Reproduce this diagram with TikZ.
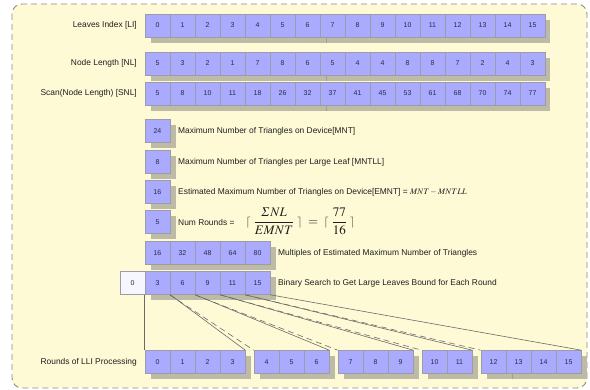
\documentclass[tikz,border=0pt]{standalone}
\usepackage{mathptmx}
\usepackage{amsmath}
\usepackage[no-math]{fontspec}
\setmainfont{Liberation Sans}
\usetikzlibrary{calc}

\definecolor{paper}{HTML}{FFFAD6}
\definecolor{frameline}{HTML}{8A8A8A}
\definecolor{cellfill}{HTML}{AAAAFF}
\definecolor{cellline}{HTML}{9C9CA8}
\definecolor{celltext}{HTML}{2A2A48}
\definecolor{zerofill}{HTML}{F6F6FF}
\definecolor{shade}{HTML}{BDBAA6}
\definecolor{seamline}{HTML}{A29F8A}
\definecolor{linkline}{HTML}{6A6A6A}
\definecolor{lbltext}{HTML}{1E1E1E}

% ceiling brackets set a little smaller than the fractions they enclose
\newcommand{\ceilL}{\mbox{\fontsize{11}{13}\selectfont$\lceil$}}
\newcommand{\ceilR}{\mbox{\fontsize{11}{13}\selectfont$\rceil$}}

\tikzset{
  cell/.style={draw=cellline, fill=cellfill, line width=0.6pt,
    minimum width=25pt, minimum height=23pt, inner sep=0pt,
    text=celltext, font=\fontsize{7}{8}\selectfont},
  zerocell/.style={cell, fill=zerofill},
  rowlabel/.style={anchor=east, inner sep=0pt, text=lbltext,
    font=\fontsize{8.4}{10}\selectfont},
  desc/.style={anchor=west, inner sep=0pt, text=lbltext,
    font=\fontsize{8.4}{10}\selectfont},
  shadowbox/.style={fill=shade, draw=none},
  seam/.style={draw=seamline, line width=0.6pt},
  link/.style={draw=linkline, line width=0.6pt},
  dlink/.style={link, dash pattern=on 6pt off 4pt},
}

\begin{document}
\begin{tikzpicture}[x=1pt,y=-1pt]
\useasboundingbox (0,0) rectangle (590,390);

% framed background
\draw[fill=paper, draw=frameline, line width=0.9pt, dash pattern=on 6pt off 4pt,
      rounded corners=10pt] (12,4) rectangle (587,388);

% drop shadows behind the cell groups
\fill[shadowbox] (151,20) rectangle (550,43);
\fill[shadowbox] (151,58) rectangle (550,81);
\fill[shadowbox] (151,88) rectangle (550,111);
\draw[seam] (326,37) -- (326,43);
\draw[seam] (326,75) -- (326,81);
\draw[seam] (326,105) -- (326,111);
\foreach \yy in {131,162,192,222}
  \fill[shadowbox] (151,\yy-5.5) rectangle (175.5,\yy+17.5);
\fill[shadowbox] (151,247.5) rectangle (275.5,270.5);
\fill[shadowbox] (151,277.5) rectangle (275.5,300.5);
\fill[shadowbox] (151,356.5) rectangle (250.5,379.5);
\fill[shadowbox] (260,356.5) rectangle (334.5,379.5);
\fill[shadowbox] (344,356.5) rectangle (418.5,379.5);
\fill[shadowbox] (428,356.5) rectangle (477.5,379.5);
\fill[shadowbox] (487,356.5) rectangle (586.5,379.5);
\draw[seam] (512,373) -- (512,379.5);

% leaves index, node length and its scan
\foreach \v [count=\i from 0] in {0,1,2,3,4,5,6,7,8,9,10,11,12,13,14,15}
  \node[cell] (li\i) at (157.5+25*\i,25.5) {\v};
\foreach \v [count=\i from 0] in {5,3,2,1,7,8,6,5,4,4,8,8,7,2,4,3}
  \node[cell] (nl\i) at (157.5+25*\i,63.5) {\v};
\foreach \v [count=\i from 0] in {5,8,10,11,18,26,32,37,41,45,53,61,68,70,74,77}
  \node[cell] (snl\i) at (157.5+25*\i,93.5) {\v};

\node[rowlabel] (lblLI) at (137,25.5) {Leaves Index [LI]};
\node[rowlabel] (lblNL) at (137,63.5) {Node Length [NL]};
\node[rowlabel] (lblSNL) at (137,93.5) {Scan(Node Length) [SNL]};

% single values
\node[cell] (mnt) at (157.5,131) {24};
\node[cell] (mntll) at (157.5,162) {8};
\node[cell] (emnt) at (157.5,192) {16};
\node[cell] (rounds) at (157.5,222) {5};

\node[desc] (dMNT) at (178,131) {Maximum Number of Triangles on Device[MNT]};
\node[desc] (dMNTLL) at (178,162) {Maximum Number of Triangles per Large Leaf [MNTLL]};
\node[desc] (dEMNT) at (178,192)
  {Estimated Maximum Number of Triangles on Device[EMNT] = $MNT-MNTLL$};
\node[desc, anchor=base west] (dRounds) at (178,225.5)
  {Num Rounds = \hspace{9pt}{\fontsize{13}{15}\selectfont
   $\ceilL\;\dfrac{\varSigma NL}{EMNT}\;\ceilR \;=\; \ceilL\;\dfrac{77}{16}\;\ceilR$}};

% multiples of EMNT
\foreach \v [count=\i from 0] in {16,32,48,64,80}
  \node[cell] (mul\i) at (157.5+25*\i,253) {\v};
\node[desc] (dMul) at (278,253) {Multiples of Estimated Maximum Number of Triangles};

% large leaf bounds per round
\node[zerocell] (b0) at (132.5,283) {0};
\foreach \v [count=\i from 1] in {3,6,9,11,15}
  \node[cell] (b\i) at (132.5+25*\i,283) {\v};
\node[desc] (dBin) at (278,283) {Binary Search to Get Large Leaves Bound for Each Round};

% rounds of LLI processing
\foreach \i in {0,1,2,3}
  \node[cell] (r\i) at (157.5+25*\i,362) {\i};
\foreach \i in {4,5,6}
  \node[cell] (r\i) at (166.5+25*\i,362) {\i};
\foreach \i in {7,8,9}
  \node[cell] (r\i) at (175.5+25*\i,362) {\i};
\foreach \i in {10,11}
  \node[cell] (r\i) at (184.5+25*\i,362) {\i};
\foreach \i in {12,13,14,15}
  \node[cell] (r\i) at (193.5+25*\i,362) {\i};
\node[rowlabel] (lblRounds) at (137,362) {Rounds of LLI Processing};

% bounds fanning out to their rounds
\draw[link] (b1.south west) -- (r0.north west);
\draw[link] (b1.south east) -- (r3.north east);
\draw[dlink] (b2.south west) -- (r4.north west);
\draw[link] (b2.south east) -- (r6.north east);
\draw[dlink] (b3.south west) -- (r7.north west);
\draw[link] (b3.south east) -- (r9.north east);
\draw[dlink] (b4.south west) -- (r10.north west);
\draw[link] (b4.south east) -- (r11.north east);
\draw[dlink] (b5.south west) -- (r12.north west);
\draw[link] (b5.south east) -- (r15.north east);
\end{tikzpicture}
\end{document}
